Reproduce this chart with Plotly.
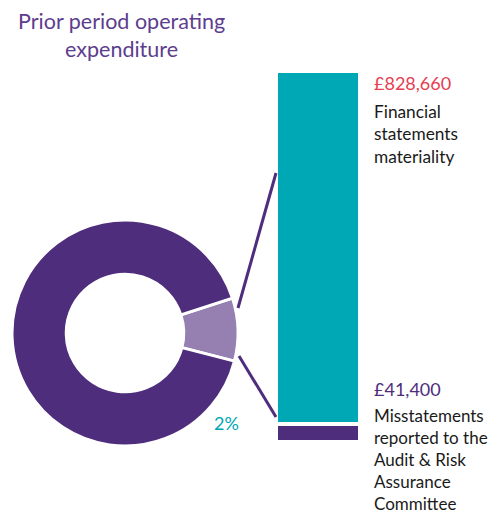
import plotly.graph_objects as go

W, H = 499, 512

# data
pie_labels = ["Materiality share", "Rest of expenditure"]
pie_values = [9, 91]          # visual share of the donut slice
pie_label_text = "2%"
bar_labels = ["Misstatements reported to the Audit & Risk Assurance Committee",
              "Financial statements materiality"]
bar_values = [41400, 828660]
bar_value_text = ["£41,400", "£828,660"]
bar_desc = ["Misstatements<br>reported to the<br>Audit & Risk<br>Assurance<br>Committee",
            "Financial<br>statements<br>materiality"]
title_text = "Prior period operating<br>expenditure"

DARK = "#4E2D7C"
LIGHT = "#9580B1"
TEAL = "#00A7B5"
RED = "#E63E52"
FONT = "Lato"

def px(x): return x / W
def py(y): return 1 - y / H

fig = go.Figure()

# donut
cx, cy, r = 125, 333, 113
fig.add_trace(go.Pie(
    labels=pie_labels, values=pie_values, hole=0.52, sort=False,
    direction="clockwise", rotation=72,
    marker=dict(colors=[LIGHT, DARK], line=dict(color="white", width=3)),
    textinfo="none", hoverinfo="skip", showlegend=False,
    domain=dict(x=[px(cx - r), px(cx + r)], y=[py(cy + r), py(cy - r)]),
))

# stacked bar
bx0, bx1, by_top, by_bot = 276, 360, 71, 442
colors = [DARK, TEAL]
for i in range(2):
    fig.add_trace(go.Bar(
        x=[0], y=[bar_values[i]], width=1, name=bar_labels[i],
        marker=dict(color=colors[i], line=dict(color="white", width=4)),
        hoverinfo="skip", showlegend=False,
    ))

total = sum(bar_values)
fig.update_layout(
    barmode="stack",
    width=W, height=H, margin=dict(l=0, r=0, t=0, b=0),
    paper_bgcolor="white", plot_bgcolor="rgba(0,0,0,0)",
    xaxis=dict(domain=[px(bx0), px(bx1)], range=[-0.5, 0.5], visible=False, fixedrange=True),
    yaxis=dict(domain=[py(by_bot), py(by_top)], range=[0, total], visible=False, fixedrange=True),
    font=dict(family=FONT),
)

# connector lines
lines = [((238, 308), (276, 173)), ((239, 356), (276, 417))]
for (x0, y0), (x1, y1) in lines:
    fig.add_shape(type="line", xref="paper", yref="paper",
                  x0=px(x0), y0=py(y0), x1=px(x1), y1=py(y1),
                  line=dict(color=DARK, width=3))

# texts
fig.add_annotation(x=px(121), y=py(35), xref="paper", yref="paper", text=title_text,
                   showarrow=False, font=dict(size=21.5, color="#5D3D8E", family=FONT),
                   xanchor="center", yanchor="middle", align="center")
fig.add_annotation(x=px(226), y=py(423), xref="paper", yref="paper", text=pie_label_text,
                   showarrow=False, font=dict(size=18, color=TEAL, family=FONT),
                   xanchor="center", yanchor="middle")

tx = px(372)
fig.add_annotation(x=tx, y=py(83), xref="paper", yref="paper", text=bar_value_text[1],
                   showarrow=False, font=dict(size=18, color=RED, family=FONT),
                   xanchor="left", yanchor="middle")
fig.add_annotation(x=tx, y=py(99), xref="paper", yref="paper", text=bar_desc[1],
                   showarrow=False, font=dict(size=17.3, color="#1A1A1A", family=FONT),
                   xanchor="left", yanchor="top", align="left")
fig.add_annotation(x=tx, y=py(389), xref="paper", yref="paper", text=bar_value_text[0],
                   showarrow=False, font=dict(size=18, color=DARK, family=FONT),
                   xanchor="left", yanchor="middle")
fig.add_annotation(x=tx, y=py(403), xref="paper", yref="paper", text=bar_desc[0],
                   showarrow=False, font=dict(size=17, color="#1A1A1A", family=FONT),
                   xanchor="left", yanchor="top", align="left")

fig.write_html("out.html", config={"displayModeBar": False},
               post_script="document.body.style.margin='0';")
